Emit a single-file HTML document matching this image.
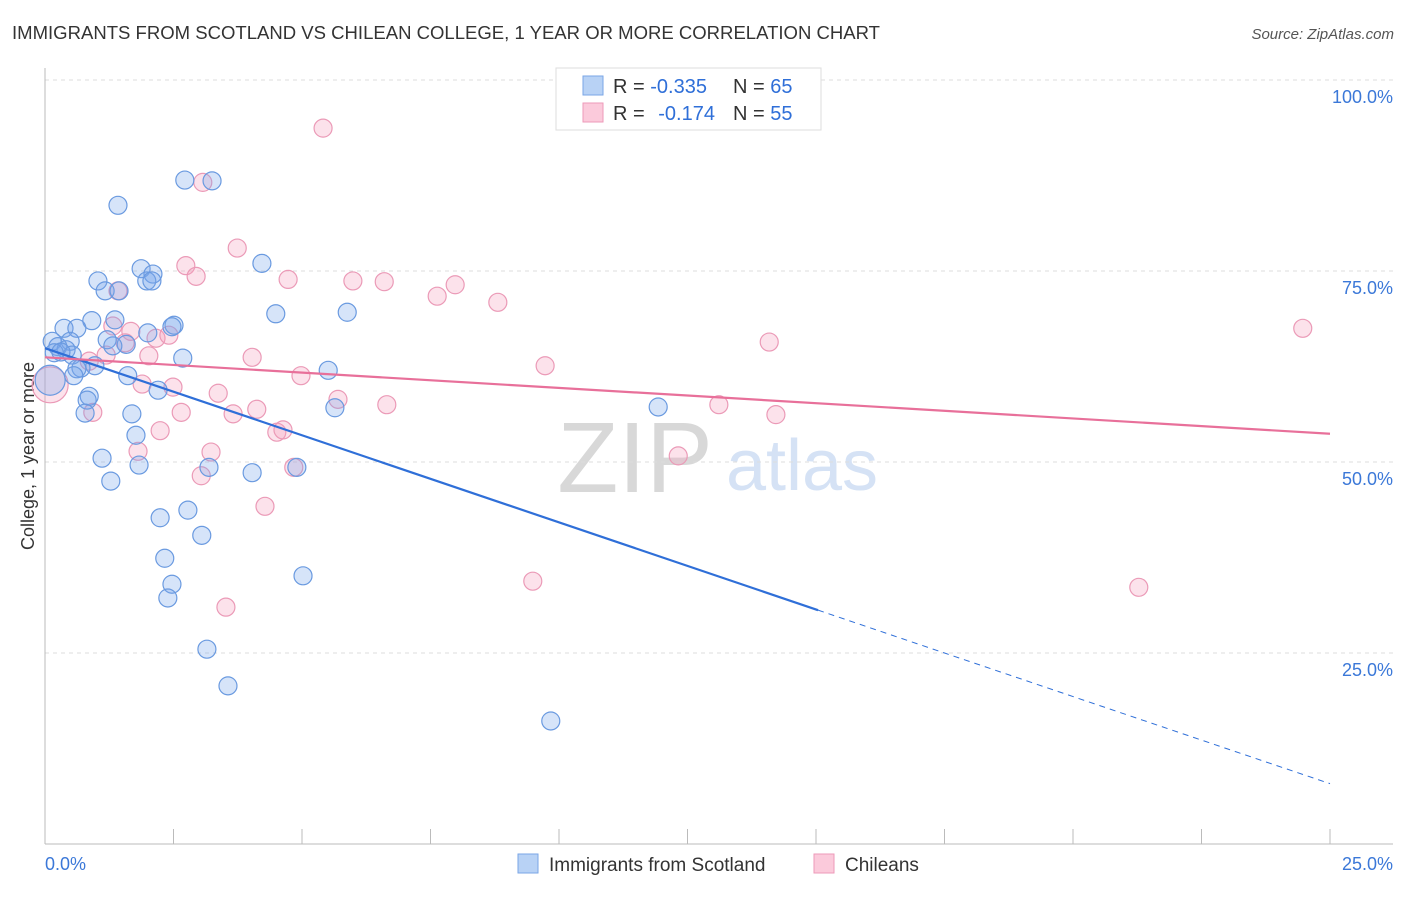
<!DOCTYPE html>
<html><head><meta charset="utf-8"><style>
body{margin:0;background:#fff;font-family:"Liberation Sans",sans-serif;}
svg text{font-family:"Liberation Sans",sans-serif;}
</style></head><body>
<svg id="chart" width="1406" height="892" viewBox="0 0 1406 892" xmlns="http://www.w3.org/2000/svg">
<text x="12" y="39" font-size="18" fill="#333" textLength="868" lengthAdjust="spacingAndGlyphs">IMMIGRANTS FROM SCOTLAND VS CHILEAN COLLEGE, 1 YEAR OR MORE CORRELATION CHART</text>
<text x="1394" y="39" font-size="15" fill="#555" text-anchor="end" font-style="italic">Source: ZipAtlas.com</text>
<text x="34" y="456" font-size="18" fill="#333" text-anchor="middle" transform="rotate(-90 34 456)">College, 1 year or more</text>
<g>
<text x="635" y="492" font-size="100" fill="#d8d8d8" text-anchor="middle" font-family="Liberation Serif">ZIP</text>
<text x="802" y="490" font-size="72" fill="#d5e2f5" text-anchor="middle">atlas</text>
</g>
<g id="grid"></g><g id="axes"></g><g id="pts"></g><g id="lines"></g>
<g>
<rect x="556" y="68" width="265" height="62" fill="#fff" stroke="#ddd"/>
<rect x="583" y="76" width="20" height="19" fill="#b8d2f5" stroke="#7aa6e6"/>
<rect x="583" y="103" width="20" height="19" fill="#fbcadb" stroke="#ee9ab8"/>
<text x="613" y="93" font-size="20" fill="#333">R = <tspan fill="#2f6fd8">-0.335</tspan></text>
<text x="733" y="93" font-size="20" fill="#333">N = <tspan fill="#2f6fd8">65</tspan></text>
<text x="613" y="120" font-size="20" fill="#333">R = <tspan fill="#2f6fd8" dx="8">-0.174</tspan></text>
<text x="733" y="120" font-size="20" fill="#333">N = <tspan fill="#2f6fd8">55</tspan></text>
</g>
<g>
<rect x="518" y="854" width="20" height="19" fill="#b8d2f5" stroke="#7aa6e6"/>
<text x="549" y="871" font-size="19" fill="#333">Immigrants from Scotland</text>
<rect x="814" y="854" width="20" height="19" fill="#fbcadb" stroke="#ee9ab8"/>
<text x="845" y="871" font-size="19" fill="#333">Chileans</text>
</g>
</svg>
<script>
const yTicks=[25,50,75,100];
const yTickLabels=["25.0%","50.0%","75.0%","100.0%"];
const xTickCount=10;
const xLabels=["0.0%","25.0%"];
const blueX=[2.72,3.25,1.42,4.22,1.87,2.10,1.98,2.08,1.03,1.17,1.44,4.49,5.88,0.91,0.37,0.62,1.36,2.51,2.47,2.00,1.21,1.58,1.32,0.14,0.49,0.25,0.41,0.18,0.53,0.31,2.68,0.97,0.70,0.62,0.56,1.61,5.51,2.20,0.86,0.82,0.78,1.69,5.64,11.93,1.77,1.11,1.83,3.19,4.90,4.03,1.28,2.24,2.78,3.05,2.33,2.47,5.02,2.39,3.15,3.56,9.84];
const blueY=[86.9,86.8,83.6,76.0,75.3,74.6,73.7,73.7,73.7,72.4,72.4,69.4,69.6,68.5,67.5,67.5,68.6,67.9,67.7,66.9,66.0,65.4,65.2,65.8,65.8,65.1,64.7,64.3,64.0,64.4,63.6,62.6,62.3,62.2,61.3,61.3,62.0,59.4,58.6,58.1,56.4,56.3,57.1,57.2,53.5,50.5,49.6,49.3,49.3,48.6,47.5,42.7,43.7,40.4,37.4,34.0,35.1,32.2,25.5,20.7,16.1];
const pinkX=[5.41,3.07,3.74,2.74,2.94,4.73,5.99,6.60,7.98,7.63,8.81,24.47,1.42,1.32,1.67,2.16,2.41,14.09,1.56,4.03,2.02,1.19,0.86,9.73,4.98,2.49,1.89,3.37,5.70,6.65,4.12,3.66,2.65,0.93,13.11,14.22,2.24,4.51,4.63,3.23,1.81,4.84,3.04,12.32,4.28,9.49,21.28,3.52];
const pinkY=[93.7,86.6,78.0,75.7,74.3,73.9,73.7,73.6,73.2,71.7,70.9,67.5,72.4,67.8,67.1,66.2,66.6,65.7,65.6,63.7,63.9,64.0,63.2,62.6,61.3,59.8,60.2,59.0,58.2,57.5,56.9,56.3,56.5,56.5,57.5,56.2,54.1,53.9,54.2,51.3,51.4,49.3,48.2,50.8,44.2,34.4,33.6,31.0];
const bigBlue=[0.1,60.7];
const bigPink=[0.1,60.1];
const blueTrend=[64.9,-2.28,15.04];
const pinkTrend=[63.7,53.7];
const NS="http://www.w3.org/2000/svg";
const X0=45,X1=1330,Y0=844,Y100=80;
const sx=v=>X0+(X1-X0)*v/25;
const sy=v=>Y0-(Y0-Y100)*v/100;
function mk(tag,attrs,parent){const e=document.createElementNS(NS,tag);for(const k in attrs)e.setAttribute(k,attrs[k]);document.getElementById(parent).appendChild(e);return e;}
yTicks.forEach((t,i)=>{
 const g=mk('line',{x1:X0,x2:1393,y1:sy(t),y2:sy(t),stroke:'#ddd','stroke-dasharray':'4 4'},'grid');
 
 
 const tx=mk('text',{x:1393,y:sy(t)+23,'font-size':18,fill:'#3b78d8','text-anchor':'end'},'grid');
 tx.textContent=yTickLabels[i];
 
 
});
const ax=mk('line',{x1:X0,x2:X0,y1:68,y2:Y0,stroke:'#bbb'},'axes');


const bx=mk('line',{x1:X0,x2:1393,y1:Y0,y2:Y0,stroke:'#bbb'},'axes');


for(let i=0;i<=xTickCount;i++){
 const v=25*i/xTickCount;
 const t=mk('line',{x1:sx(v),x2:sx(v),y1:Y0-15,y2:Y0,stroke:'#bbb'},'axes');
 
 
}
const l0=mk('text',{x:45,y:870,'font-size':18,fill:'#3b78d8'},'axes');l0.textContent=xLabels[0];


const l1=mk('text',{x:1393,y:870,'font-size':18,fill:'#3b78d8','text-anchor':'end'},'axes');l1.textContent=xLabels[1];


function dot(x,y,r,fill,stroke,name){
 const c=mk('circle',{cx:sx(x),cy:sy(y),r:r,fill:fill,stroke:stroke,'stroke-width':1.2},'pts');
 
 
}
const bf='rgba(120,165,235,0.3)',bs='#6a9ae0',pf='rgba(245,160,190,0.3)',ps='#eb9ab7';
dot(bigPink[0],bigPink[1],18,pf,ps,'chileans-point-large');
dot(bigBlue[0],bigBlue[1],15,bf,bs,'scotland-point-large');
pinkX.forEach((x,i)=>dot(x,pinkY[i],9,pf,ps,'chileans-point'));
blueX.forEach((x,i)=>dot(x,blueY[i],9,bf,bs,'scotland-point'));
const be=blueTrend[0]+blueTrend[1]*blueTrend[2];
const b1=mk('line',{x1:sx(0),y1:sy(blueTrend[0]),x2:sx(blueTrend[2]),y2:sy(be),stroke:'#2f6fd8','stroke-width':2.2},'lines');


const b2=mk('line',{x1:sx(blueTrend[2]),y1:sy(be),x2:sx(25),y2:sy(blueTrend[0]+blueTrend[1]*25),stroke:'#2f6fd8','stroke-width':1,'stroke-dasharray':'6 5'},'lines');


const p1=mk('line',{x1:sx(0),y1:sy(pinkTrend[0]),x2:sx(25),y2:sy(pinkTrend[1]),stroke:'#e8709a','stroke-width':2.2},'lines');


</script>
</body></html>
